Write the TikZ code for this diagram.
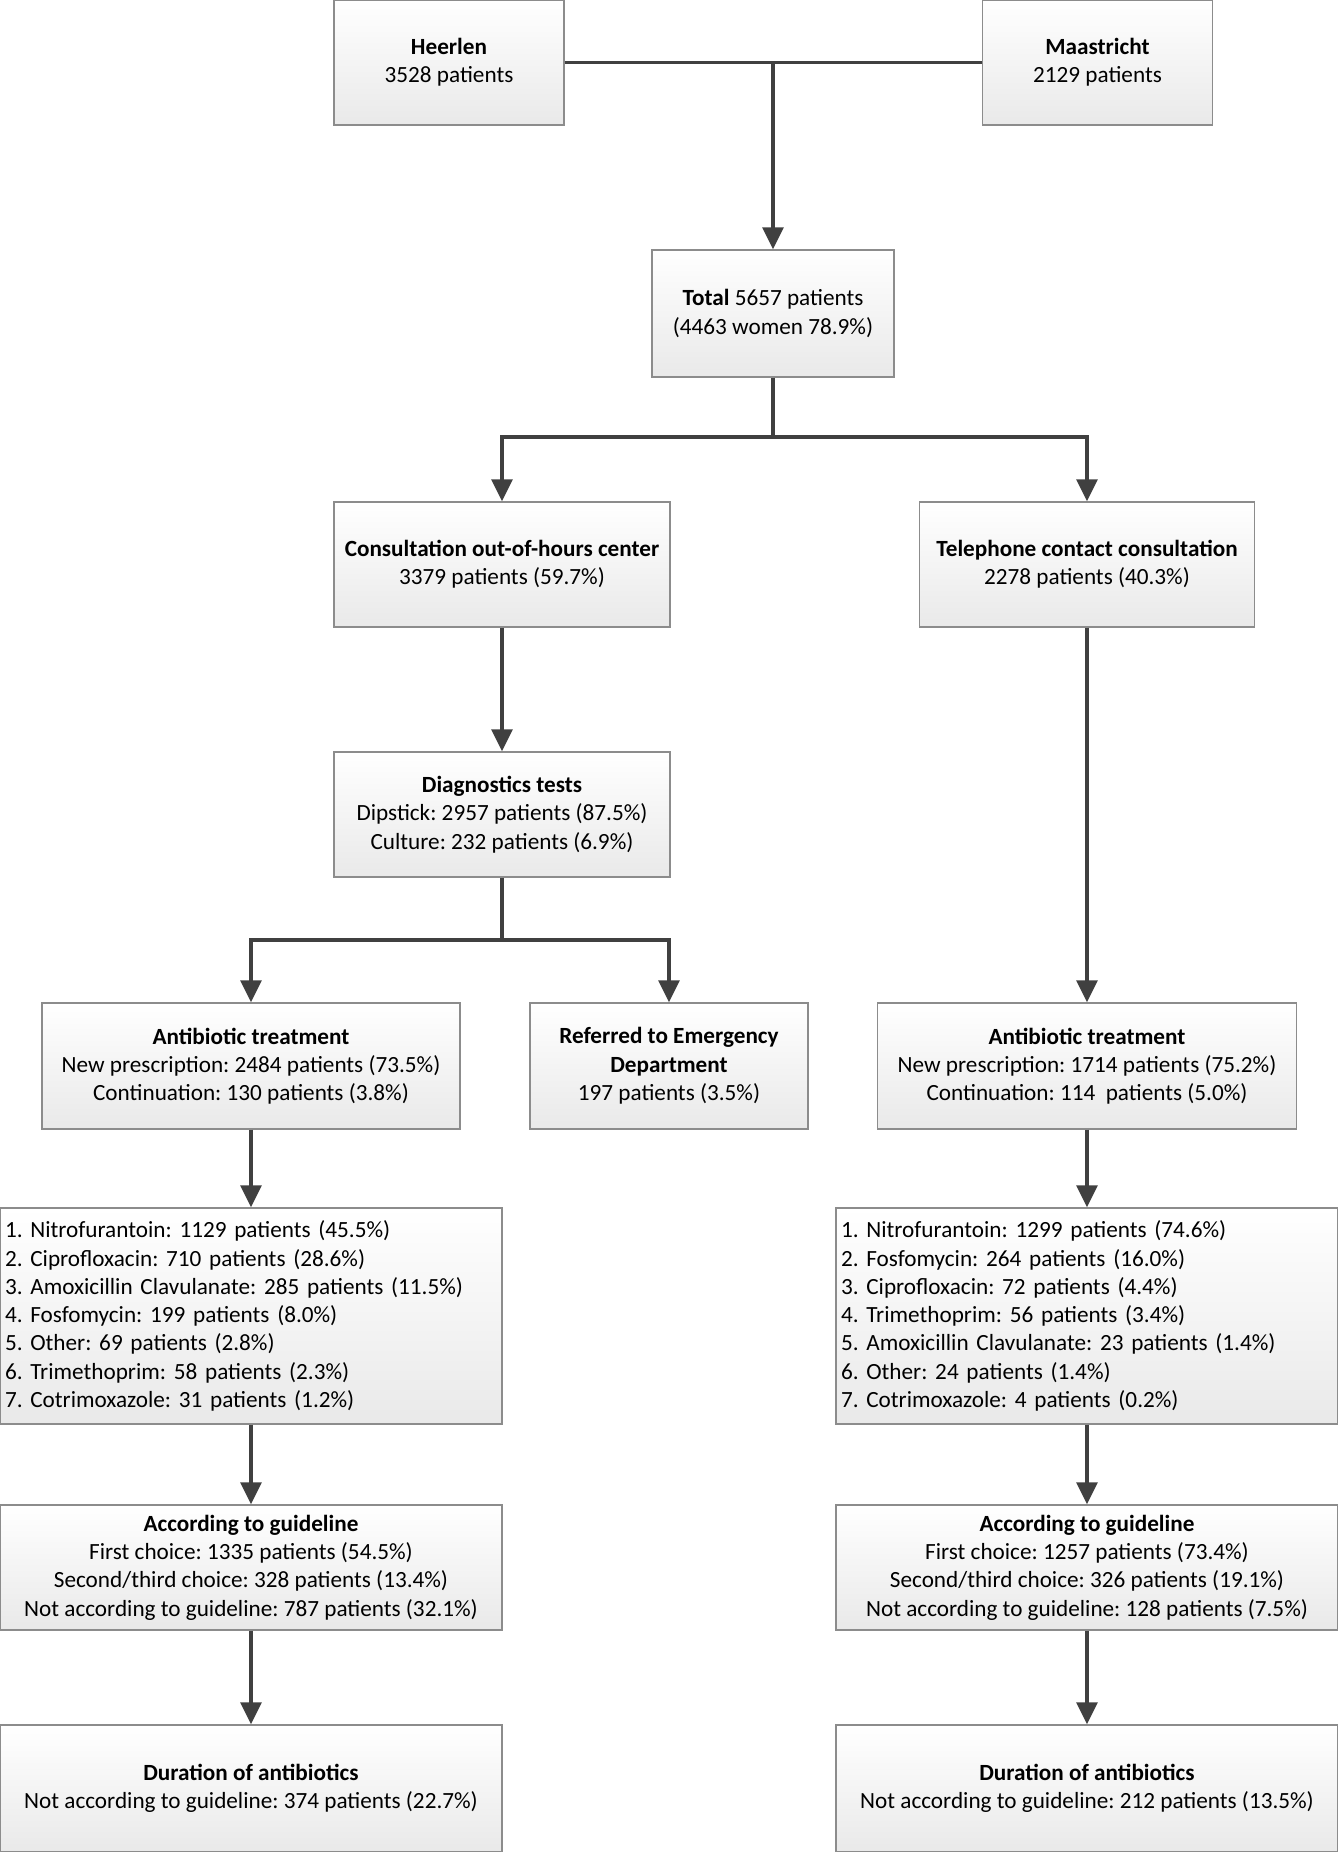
\documentclass[tikz,border=0pt]{standalone}
\usepackage{fontspec}
\setmainfont{Carlito}
\usepackage{tikz}
\usetikzlibrary{arrows.meta}
\frenchspacing
\definecolor{boxline}{HTML}{8C8C8C}
\definecolor{boxfill}{HTML}{E9E9E9}
\definecolor{arrowgray}{HTML}{404040}

\begin{document}
\begin{tikzpicture}[x=0.5pt, y=-0.5pt,
	box/.style={draw=boxline, line width=0.7pt, top color=white, bottom color=boxfill,
		align=center, font=\fontsize{11.6}{14.15}\selectfont, inner sep=2.5pt},
	listbox/.style={box, align=left, text width=246pt, minimum height=108pt},
	link/.style={draw=arrowgray, line width=1.6pt},
	flow/.style={link, -{Triangle[length=11pt,width=10.5pt]}}]
	\useasboundingbox (0,0) rectangle (1338,1852);

	% sites
	\node[box, minimum width=115pt, minimum height=62.5pt] (heerlen) at (449,62.5) {\textbf{Heerlen}\\3528 patients};
	\node[box, minimum width=115pt, minimum height=62.5pt] (maastricht) at (1097.5,62.5) {\textbf{Maastricht}\\2129 patients};
	\node[box, minimum width=121pt, minimum height=63.5pt] (total) at (773,313.5) {\textbf{Total} 5657 patients\\(4463 women 78.9\%)};

	% type of contact
	\node[box, minimum width=168pt, minimum height=62.5pt] (consult) at (502,564.5) {\textbf{Consultation out-of-hours center}\\3379 patients (59.7\%)};
	\node[box, minimum width=167.5pt, minimum height=62.5pt] (phone) at (1087,564.5) {\textbf{Telephone contact consultation}\\2278 patients (40.3\%)};
	\node[box, minimum width=168pt, minimum height=62.5pt] (diag) at (502,814.5) {\textbf{Diagnostics tests}\\Dipstick: 2957 patients (87.5\%)\\Culture: 232 patients (6.9\%)};

	% treatment
	\node[box, minimum width=209pt, minimum height=63pt] (abxL) at (251,1066) {\textbf{Antibiotic treatment}\\New prescription: 2484 patients (73.5\%)\\Continuation: 130 patients (3.8\%)};
	\node[box, minimum width=139pt, minimum height=63pt] (refer) at (669,1066) {\textbf{Referred to Emergency}\\\textbf{Department}\\197 patients (3.5\%)};
	\node[box, minimum width=209.5pt, minimum height=63pt] (abxR) at (1087,1066) {\textbf{Antibiotic treatment}\\New prescription: 1714 patients (75.2\%)\\Continuation: 114~ patients (5.0\%)};

	% antibiotics
	\node[listbox] (listL) at (251,1316) {1. Nitrofurantoin: 1129 patients (45.5\%)\\2. Ciprofloxacin: 710 patients (28.6\%)\\3. Amoxicillin Clavulanate: 285 patients (11.5\%)\\4. Fosfomycin: 199 patients (8.0\%)\\5. Other: 69 patients (2.8\%)\\6. Trimethoprim: 58 patients (2.3\%)\\7. Cotrimoxazole: 31 patients (1.2\%)};
	\node[listbox] (listR) at (1087,1316) {1. Nitrofurantoin: 1299 patients (74.6\%)\\2. Fosfomycin: 264 patients (16.0\%)\\3. Ciprofloxacin: 72 patients (4.4\%)\\4. Trimethoprim: 56 patients (3.4\%)\\5. Amoxicillin Clavulanate: 23 patients (1.4\%)\\6. Other: 24 patients (1.4\%)\\7. Cotrimoxazole: 4 patients (0.2\%)};

	% guideline
	\node[box, minimum width=251pt, minimum height=62.5pt] (guideL) at (251,1567.5) {\textbf{According to guideline}\\First choice: 1335 patients (54.5\%)\\Second/third choice: 328 patients (13.4\%)\\Not according to guideline: 787 patients (32.1\%)};
	\node[box, minimum width=251pt, minimum height=62.5pt] (guideR) at (1087,1567.5) {\textbf{According to guideline}\\First choice: 1257 patients (73.4\%)\\Second/third choice: 326 patients (19.1\%)\\Not according to guideline: 128 patients (7.5\%)};
	\node[box, minimum width=251pt, minimum height=63.5pt] (durL) at (251,1788.5) {\textbf{Duration of antibiotics}\\Not according to guideline: 374 patients (22.7\%)};
	\node[box, minimum width=251pt, minimum height=63.5pt] (durR) at (1087,1788.5) {\textbf{Duration of antibiotics}\\Not according to guideline: 212 patients (13.5\%)};

	% connectors
	\coordinate (join) at (773,62.5);
	\coordinate (split1) at (773,437);
	\coordinate (split2) at (502,940);
	\draw[link] (heerlen) -- (maastricht);
	\draw[flow] (join) -- (total);
	\draw[link] (total) -- (split1);
	\draw[flow] (split1) -| (consult);
	\draw[flow] (split1) -| (phone);
	\draw[flow] (consult) -- (diag);
	\draw[link] (diag) -- (split2);
	\draw[flow] (split2) -| (abxL);
	\draw[flow] (split2) -| (refer);
	\draw[flow] (phone) -- (abxR);
	\draw[flow] (abxL) -- (listL);
	\draw[flow] (abxR) -- (listR);
	\draw[flow] (listL) -- (guideL);
	\draw[flow] (listR) -- (guideR);
	\draw[flow] (guideL) -- (durL);
	\draw[flow] (guideR) -- (durR);
\end{tikzpicture}
\end{document}
